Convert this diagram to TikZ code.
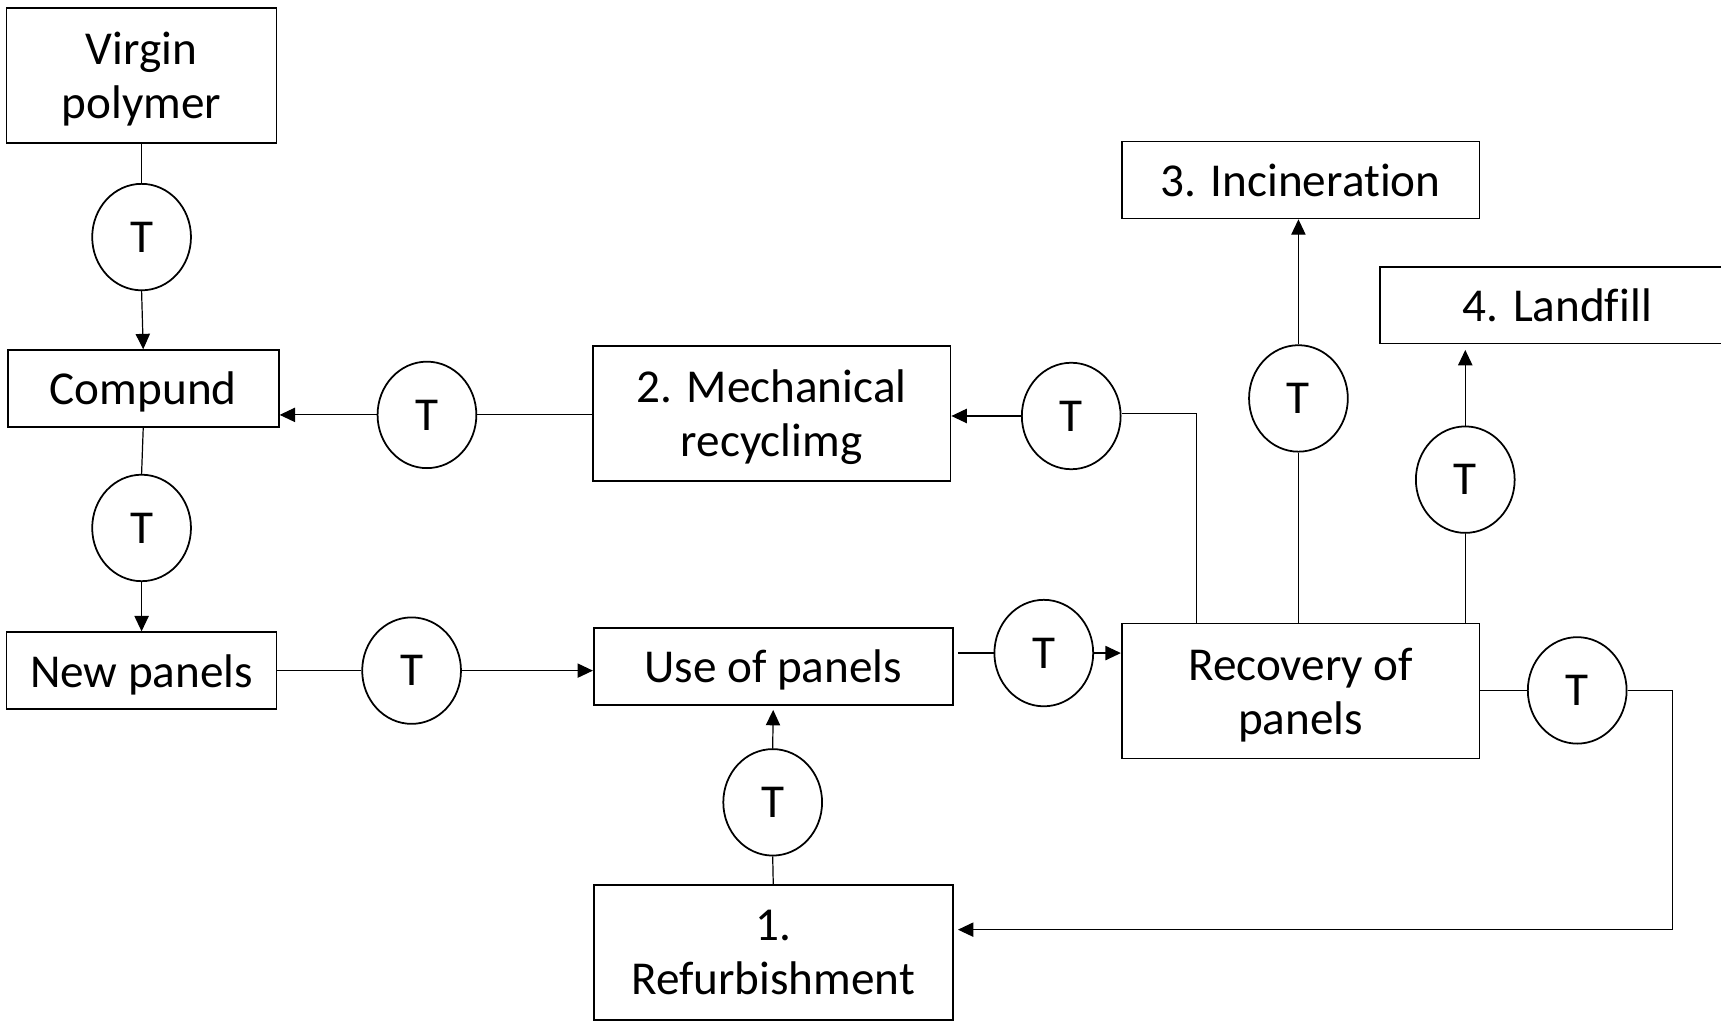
\documentclass[tikz,border=0pt]{standalone}
\usepackage{fontspec}
\setmainfont{Carlito}[Ligatures=NoCommon]
\usetikzlibrary{arrows.meta,shapes.geometric}

\begin{document}
\begin{tikzpicture}[x=1pt,y=-1pt,
  box/.style={draw, line width=1.6pt, inner sep=0pt, align=center, text depth=0pt,
    font=\fontsize{43}{49}\selectfont},
  tnode/.style={draw, ellipse, line width=1.6pt, inner sep=0pt,
    minimum width=90pt, minimum height=97pt, font=\fontsize{43}{49}\selectfont},
  link/.style={line width=1.1pt},
  flow/.style={line width=1.1pt, -{Triangle[length=14pt,width=13pt]}}
]
\useasboundingbox (0,0) rectangle (1568,930);

% process boxes
\node[box, minimum width=246pt, minimum height=123pt] (vp)     at (129,68.5)   {Virgin\\polymer};
\node[box, minimum width=247pt, minimum height=70pt]  (comp)   at (130.5,354)  {Compund};
\node[box, minimum width=246pt, minimum height=70pt]  (newp)   at (129,611)    {New panels};
\node[box, minimum width=326pt, minimum height=123pt] (mech)   at (703,376.5)  {2. Mechanical\\recyclimg};
\node[box, minimum width=327pt, minimum height=70pt]  (use)    at (704.5,607)  {Use of panels};
\node[box, minimum width=327pt, minimum height=123pt] (refurb) at (704.5,867.5){1.\\Refurbishment};
\node[box, minimum width=326pt, minimum height=70pt]  (incin)  at (1185,164)   {3. Incineration};
\node[box, minimum width=324pt, minimum height=70pt]  (lf)     at (1419,278)   {4. Landfill};
\node[box, minimum width=326pt, minimum height=123pt] (rec)    at (1185,629.5) {Recovery of\\panels};

% transport steps
\node[tnode] (t1)  at (129,216)  {T};
\node[tnode] (t2)  at (129,481)  {T};
\node[tnode] (t3)  at (389,378)  {T};
\node[tnode] (t4)  at (375,611)  {T};
\node[tnode] (t5)  at (976,379)  {T};
\node[tnode] (t6)  at (951,595)  {T};
\node[tnode] (t7)  at (1183,363) {T};
\node[tnode] (t8)  at (1335,437) {T};
\node[tnode] (t9)  at (1437,629) {T};
\node[tnode] (t10) at (704,731)  {T};

% bend points of the return lines
\coordinate (c5)  at (1090,377);
\coordinate (c10) at (1524,847);

% production chain
\draw[link] (vp.south) -- (t1.north);
\draw[flow] (t1.south) -- (comp.north);
\draw[link] (comp.south) -- (t2.north);
\draw[flow] (t2.south) -- (newp.north);
\draw[link] (newp.east |- t4.west) -- (t4.west);
\draw[flow] (t4.east) -- (t4.east -| use.west);

% use and recovery
\draw[link] ([xshift=4pt]use.east |- t6.west) -- (t6.west);
\draw[flow] (t6.east) -- (t6.east -| rec.west);
\draw[link] (refurb.north) -- (t10.south);
\draw[flow, shorten >=4pt] (t10.north) -- (use.south);

% mechanical recycling loop
\draw[link] (c5 |- rec.north) -- (c5) -- (c5 -| t5.east);
\draw[flow] (t5.west) -- (t5.west -| mech.east);
\draw[link] (mech.west |- t3.east) -- (t3.east);
\draw[flow] (t3.west) -- (t3.west -| comp.east);

% incineration and landfill
\draw[link] (t7.south |- rec.north) -- (t7.south);
\draw[flow] (t7.north) -- (t7.north |- incin.south);
\draw[link] (t8.south |- rec.north) -- (t8.south);
\draw[flow, shorten >=5pt] (t8.north) -- (t8.north |- lf.south);

% refurbishment loop
\draw[link] (rec.east |- t9.west) -- (t9.west);
\draw[flow, shorten >=4pt] (t9.east) -| (c10) -- (c10 -| refurb.east);
\end{tikzpicture}
\end{document}
